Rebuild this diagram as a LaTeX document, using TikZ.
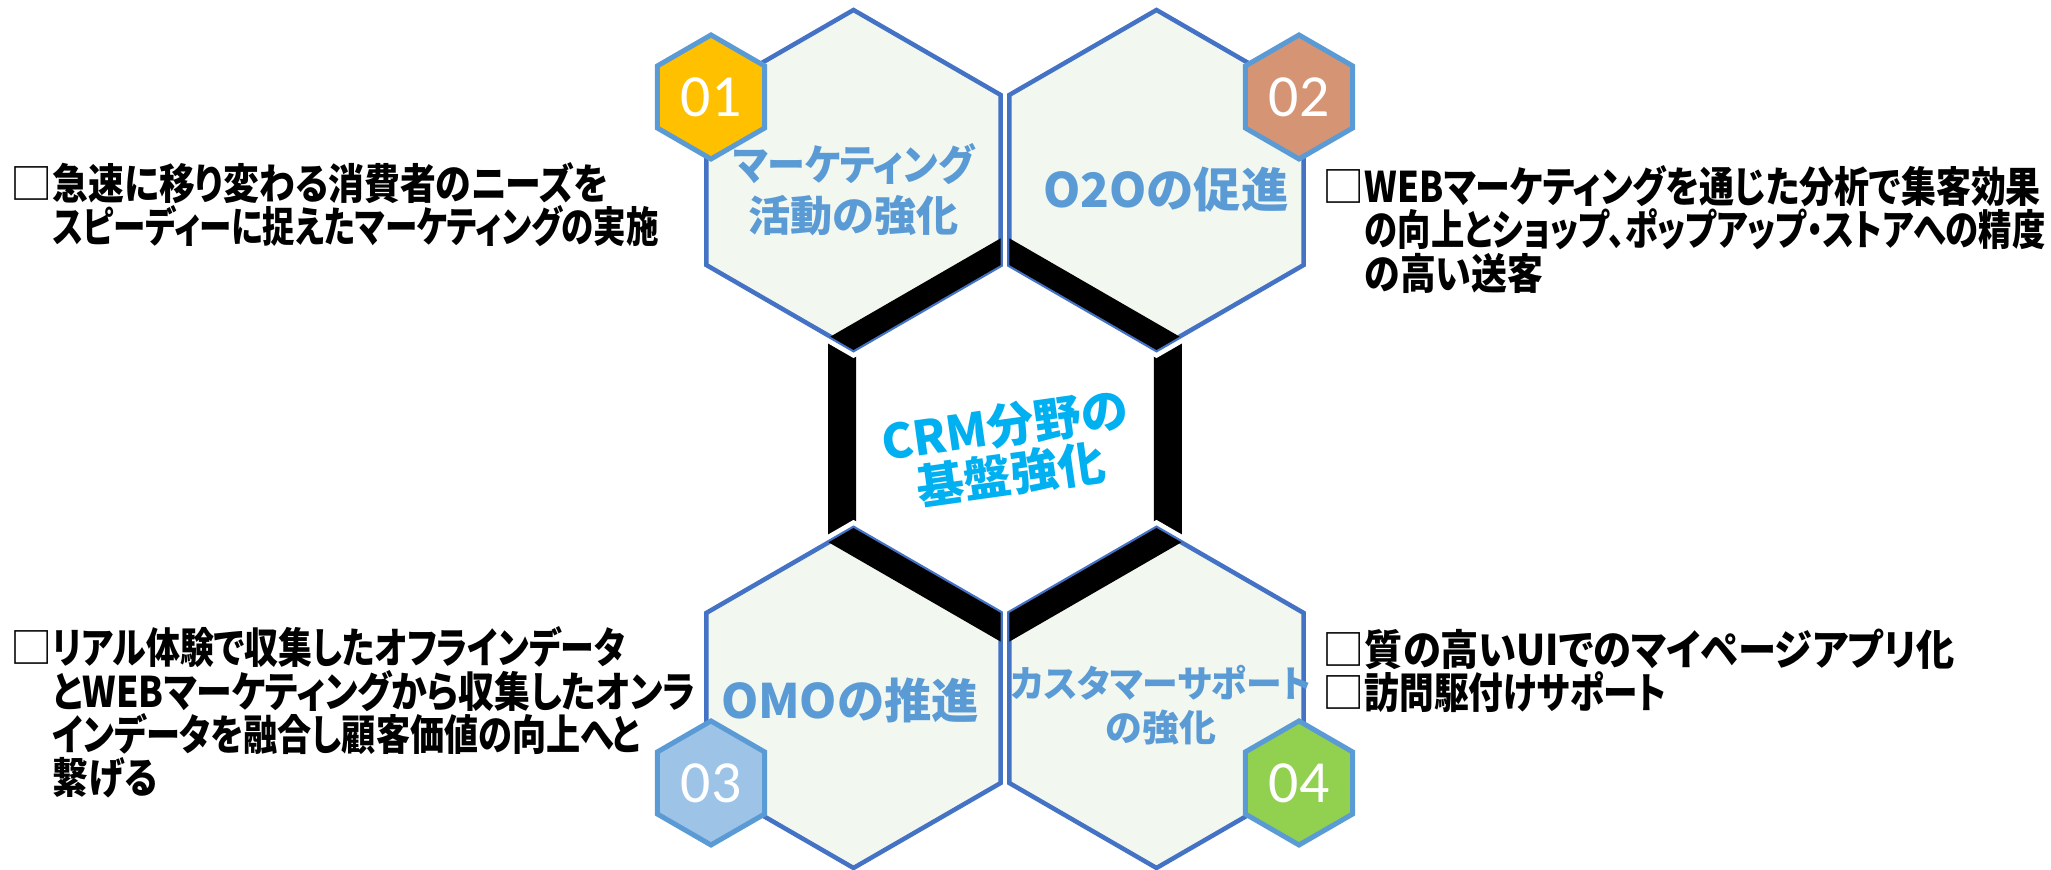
\documentclass[tikz,border=0pt]{standalone}
\usepackage{fontspec}
\setmainfont{Carlito}
\newfontfamily\jpfont{Noto Sans CJK JP}[RawFeature=+palt]
\newfontfamily\jpnarrow{Noto Sans CJK JP}[FakeStretch=0.85,RawFeature=+palt]
\definecolor{cellfill}{RGB}{242,247,240}
\definecolor{cellline}{RGB}{68,114,196}
\definecolor{tagline}{RGB}{91,155,213}
\definecolor{labelblue}{RGB}{91,155,213}
\definecolor{crmblue}{RGB}{0,176,240}
\definecolor{tagA}{RGB}{255,192,0}
\definecolor{tagB}{RGB}{213,148,115}
\definecolor{tagC}{RGB}{157,195,230}
\definecolor{tagD}{RGB}{146,208,80}
% pointy-top hexagon round a named point
\newcommand{\hexpath}[2]{(#1) +(90:#2) -- +(30:#2) -- +(-30:#2) -- +(-90:#2) -- +(-150:#2) -- +(150:#2) -- cycle}
\newcommand{\bx}{{\jpfont\mdseries □}}
% squeeze one line of a note sideways
\newcommand{\fitline}[2]{\scalebox{#1}[1]{#2}}
\begin{document}
\begin{tikzpicture}[
  cellhalo/.style={draw=white, line width=1.4mm},
  cell/.style={draw=cellline, fill=cellfill, line width=0.45mm},
  frame/.style={draw=black, line width=2.8mm},
  tag/.style={draw=tagline, line width=0.5mm},
  tagnum/.style={text=white, font=\fontsize{17}{17}\selectfont, inner sep=0pt},
  celltext/.style={text=labelblue, align=center, inner sep=0pt},
  note/.style={anchor=west, align=left, inner sep=0pt, font=\jpnarrow\bfseries\fontsize{12}{12.3}\selectfont}
]
  \useasboundingbox (0,0) rectangle (20.51,8.70);

  % centres of the cells
  \coordinate (c1) at (8.535,6.90);
  \coordinate (c2) at (11.565,6.90);
  \coordinate (c3) at (8.535,1.72);
  \coordinate (c4) at (11.565,1.72);
  \coordinate (core) at (10.05,4.30);

  % black frame, then the four cells over it
  \draw[frame] \hexpath{core}{1.88};
  \foreach \c in {c1,c2,c3,c4}
    \draw[cellhalo] \hexpath{\c}{1.70};
  \foreach \c in {c1,c2,c3,c4}
    \draw[cell] \hexpath{\c}{1.70};
  \foreach \c in {c1,c2,c3,c4} {
    \begin{scope}
      \clip \hexpath{\c}{1.70};
      \draw[frame] \hexpath{core}{1.88};
    \end{scope}
  }

  % number tags
  \coordinate (s1) at (7.11,7.73);
  \coordinate (s2) at (12.99,7.73);
  \coordinate (s3) at (7.11,0.87);
  \coordinate (s4) at (12.99,0.87);
  \draw[tag, fill=tagA] \hexpath{s1}{0.62};
  \draw[tag, fill=tagB] \hexpath{s2}{0.62};
  \draw[tag, fill=tagC] \hexpath{s3}{0.62};
  \draw[tag, fill=tagD] \hexpath{s4}{0.62};
  \node[tagnum] (n1) at (s1) {01};
  \node[tagnum] (n2) at (s2) {02};
  \node[tagnum] (n3) at (s3) {03};
  \node[tagnum] (n4) at (s4) {04};

  % cell titles
  \node[celltext, font=\jpfont\bfseries\fontsize{12}{14.5}\selectfont] (t1) at (8.535,6.80) {\fitline{0.9}{マーケティング}\\活動の強化};
  \node[celltext, font=\jpfont\bfseries\fontsize{13.5}{15}\selectfont] (t2) at (11.66,6.80) {O2Oの促進};
  \node[celltext, font=\jpfont\bfseries\fontsize{13.5}{15}\selectfont] (t3) at (8.50,1.70) {OMOの推進};
  \node[celltext, font=\jpfont\bfseries\fontsize{10.5}{12.5}\selectfont] (t4) at (11.61,1.65) {\fitline{0.97}{カスタマーサポート}\\の強化};
  \node[text=crmblue, align=center, inner sep=0pt, rotate=8, font=\jpfont\bfseries\fontsize{13.5}{14}\selectfont] (crm) at (10.08,4.20) {CRM分野の\\基盤強化};

  % side notes
  \node[note] (note1) at (0.10,6.655) {\bx 急速に移り変わる消費者のニーズを\\\phantom{\bx}\fitline{0.906}{スピーディーに捉えたマーケティングの実施}};
  \node[note] (note2) at (13.22,6.405) {\bx \fitline{0.975}{WEBマーケティングを通じた分析で集客効果}\\\phantom{\bx}\fitline{0.93}{の向上とショップ、ポップアップ・ストアへの精度}\\\phantom{\bx}の高い送客};
  \node[note] (note3) at (0.10,1.575) {\bx \fitline{0.946}{リアル体験で収集したオフラインデータ}\\\phantom{\bx}とWEBマーケティングから収集したオンラ\\\phantom{\bx}\fitline{0.952}{インデータを融合し顧客価値の向上へと}\\\phantom{\bx}繋げる};
  \node[note] (note4) at (13.22,1.99) {\bx \fitline{1.066}{質の高いUIでのマイページアプリ化}\\\bx \fitline{0.966}{訪問駆付けサポート}};
\end{tikzpicture}
\end{document}
